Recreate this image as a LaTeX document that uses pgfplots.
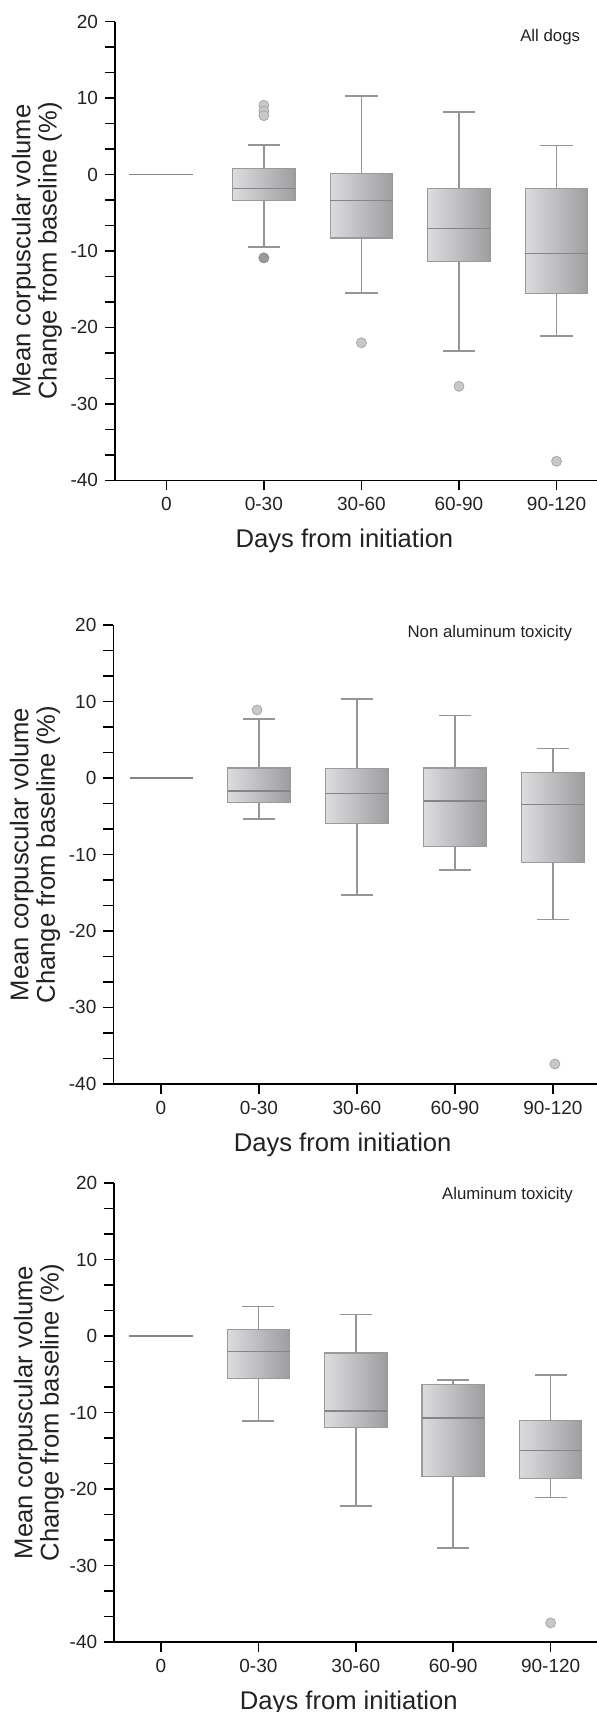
\documentclass[border=0pt]{standalone}
\usepackage{fontspec}
\setmainfont{Liberation Sans}
\usepackage{pgfplots}
\pgfplotsset{compat=1.18}
\usepgfplotslibrary{statistics}
\definecolor{boxl}{HTML}{DCDCDE}
\definecolor{boxr}{HTML}{9E9EA1}
\definecolor{boxedge}{HTML}{9A9A9A}
\definecolor{whisk}{HTML}{959595}
\definecolor{med}{HTML}{858585}
\definecolor{txt}{HTML}{222222}
\definecolor{outl}{HTML}{C8C8C8}
\definecolor{outlb}{HTML}{A8A8A8}
\definecolor{outd}{HTML}{9A9A9A}
\definecolor{outdb}{HTML}{8A8A8A}
\newcommand{\bx}[6]{\addplot[boxplot prepared={draw position=#1, median=#2, upper quartile=#3, lower quartile=#4, upper whisker=#5, lower whisker=#6}] coordinates {};}
\tikzset{note/.style={anchor=east, font=\fontsize{8.4bp}{10bp}\selectfont, text=txt}}
\pgfplotsset{
  panel/.style={
    scale only axis,
    height=229.4bp,
    anchor=south west,
    ymin=-40, ymax=20,
    axis lines=left,
    axis line style={-, line width=0.8bp, black},
    ytick={-40,-30,-20,-10,0,10,20},
    yticklabels={-40,-30,-20,-10,0,10,20},
    minor y tick num=2,
    xtick={0,1,2,3,4},
    xticklabels={0,0-30,30-60,60-90,90-120},
    tick align=outside,
    major tick length=5bp, minor tick length=5bp,
    tick style={black, line width=0.8bp},
    ticklabel style={font=\fontsize{9.5bp}{11bp}\selectfont, text=txt},
    xlabel={Days from initiation},
    ylabel={Mean corpuscular volume\\Change from baseline (\%)},
    label style={font=\fontsize{12.8bp}{13.2bp}\selectfont, text=txt},
    xlabel style={anchor=center},
    ylabel style={anchor=center, align=center},
    clip=false,
    boxplot/draw direction=y,
    boxplot/box extend=0.64,
    boxplot/whisker extend=0.33,
    boxplot/every box/.style={draw=boxedge, line width=0.6bp, left color=boxl, right color=boxr},
    boxplot/every whisker/.style={draw=whisk, line width=0.8bp},
    boxplot/every median/.style={draw=med, line width=0.6bp},
  },
  outlier/.style={only marks, mark=*, mark size=2.5bp, mark options={fill=outl, draw=outlb, line width=0.4bp}},
  outlierdark/.style={only marks, mark=*, mark size=2.5bp, mark options={fill=outd, draw=outdb, line width=0.4bp}},
  zeroline/.style={draw=med, line width=0.9bp},
}
\begin{document}
\begin{tikzpicture}
\useasboundingbox (0,0) rectangle (298.5bp,856bp);
% ---------- Panel 1: All dogs ----------
\begin{axis}[panel, at={(57.5bp,615.8bp)}, width=241bp, xmin=-0.526, xmax=4.415,
  xlabel style={at={(axis description cs:0.476,-0.132)}},
  ylabel style={at={(axis description cs:-0.162,0.5)}}]
\addplot[zeroline] coordinates {(-0.38,0) (0.275,0)};
\bx{1}{-1.8}{0.8}{-3.35}{3.84}{-9.45}
\bx{2}{-3.4}{0.15}{-8.3}{10.3}{-15.5}
\bx{3}{-7.1}{-1.8}{-11.4}{8.2}{-23.1}
\bx{4}{-10.3}{-1.8}{-15.6}{3.8}{-21.1}
\addplot[outlier] coordinates {(1,9.05) (1,8.3) (1,7.7) (2,-22.0) (3,-27.7) (4,-37.5)};
\addplot[outlierdark] coordinates {(1,-10.9)};
\node[note] at (axis cs:4.313,17.9) {All dogs};
\end{axis}
% ---------- Panel 2: Non aluminum toxicity ----------
\begin{axis}[panel, at={(56.7bp,314.05bp)}, width=241.8bp, xmin=-0.486, xmax=4.45,
  xlabel style={at={(axis description cs:0.474,-0.132)}},
  ylabel style={at={(axis description cs:-0.162,0.5)}}]
\addplot[zeroline] coordinates {(-0.32,0) (0.33,0)};
\bx{1}{-1.7}{1.3}{-3.2}{7.75}{-5.35}
\bx{2}{-2.0}{1.2}{-5.95}{10.3}{-15.3}
\bx{3}{-3.0}{1.3}{-9.0}{8.2}{-12.0}
\bx{4}{-3.5}{0.75}{-11.05}{3.85}{-18.5}
\addplot[outlier] coordinates {(0.98,8.9) (4.02,-37.4)};
\node[note] at (axis cs:4.266,18.93) {Non aluminum toxicity};
\end{axis}
% ---------- Panel 3: Aluminum toxicity ----------
\begin{axis}[panel, at={(57.1bp,35.0bp)}, width=241.4bp, xmin=-0.48, xmax=4.476,
  xlabel style={at={(axis description cs:0.486,-0.132)}},
  ylabel style={at={(axis description cs:-0.156,0.5)}}]
\addplot[zeroline] coordinates {(-0.325,0) (0.33,0)};
\bx{1}{-2.0}{0.9}{-5.5}{3.9}{-11.1}
\bx{2}{-9.8}{-2.2}{-11.9}{2.85}{-22.2}
\bx{3}{-10.7}{-6.3}{-18.4}{-5.7}{-27.7}
\bx{4}{-15.0}{-11.06}{-18.6}{-5.1}{-21.1}
\addplot[outlier] coordinates {(4,-37.5)};
\node[note] at (axis cs:4.30,18.48) {Aluminum toxicity};
\end{axis}
\end{tikzpicture}
\end{document}
